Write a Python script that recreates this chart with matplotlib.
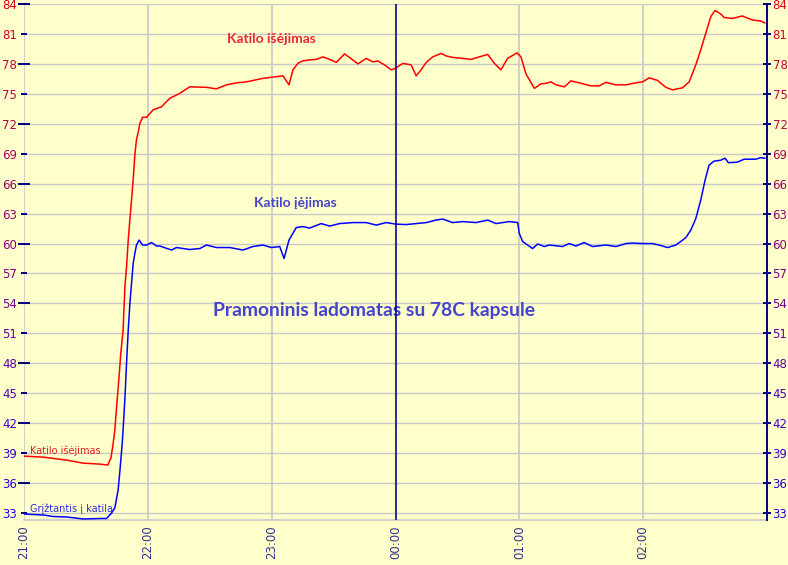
import matplotlib
matplotlib.use("Agg")
import matplotlib.pyplot as plt
import numpy as np

# ---- data (minutes after 21:00) ----
red_t = [0, 9.3, 20.7, 28.5, 36.8, 40.6, 42.1, 43.1, 44.0, 45.0, 46.0, 46.9, 48.0, 48.9,
         49.7, 50.5, 51.3, 52.1, 52.9, 53.7, 54.5, 55.6, 56.1, 57.4, 59.4, 62.6, 66.6,
         70.6, 75.5, 80.3, 88.4, 93.2, 98.1, 102.9, 107.8, 115.8, 125.5, 128.4, 130.3,
         132.7, 135.1, 138.4, 141.6, 144.8, 148.1, 151.3, 155.3, 157.7, 161.8, 165.8,
         169.0, 171.4, 174.7, 177.9, 180.0, 183.5, 187.6, 190.0, 192.4, 194.9, 198.0,
         202.1, 204.5, 207.7, 212.6, 216.6, 220.6, 224.7, 227.9, 231.1, 234.3, 238.9,
         240.8, 243.2, 247.3, 250.5, 252.9, 255.3, 257.8, 261.8, 265.0, 269.0, 274.7,
         278.7, 281.9, 286.8, 291.6, 296.5, 299.7, 302.9, 306.9, 311.0, 314.2, 319.0,
         322.3, 325.5, 327.9, 330.3, 332.8, 334.8, 337.6, 339.2, 343.2, 348.0, 352.9,
         356.9, 359.0]
red_v = [38.7, 38.6, 38.3, 38.0, 37.9, 37.8, 38.5, 39.8, 41.3, 44.0, 46.5, 49.0, 51.3, 55.7,
         57.7, 60.35, 62.4, 64.35, 66.4, 68.85, 70.4, 71.4, 72.0, 72.65, 72.65, 73.4, 73.7,
         74.55, 75.05, 75.7, 75.65, 75.5, 75.9, 76.1, 76.2, 76.55, 76.8, 75.9, 77.4,
         78.05, 78.3, 78.4, 78.45, 78.7, 78.45, 78.15, 79.0, 78.65, 78.0, 78.55,
         78.2, 78.3, 77.9, 77.4, 77.55, 78.05, 77.9, 76.8, 77.4, 78.15, 78.7,
         79.05, 78.8, 78.65, 78.55, 78.45, 78.7, 78.95, 78.05, 77.4, 78.55, 79.1,
         78.7, 77.0, 75.55, 76.0, 76.05, 76.2, 75.9, 75.7, 76.3, 76.1, 75.8,
         75.8, 76.15, 75.9, 75.9, 76.1, 76.2, 76.6, 76.35, 75.65, 75.4, 75.6,
         76.2, 77.9, 79.4, 81.05, 82.75, 83.35, 83.0, 82.65, 82.55, 82.8, 82.4,
         82.3, 82.1]

blue_t = [0, 9.3, 14.2, 20.7, 28.7, 36.8, 40.0, 42.4, 44.0, 45.6, 46.5, 47.6, 48.0, 48.9,
          49.8, 50.5, 51.3, 52.1, 52.9, 53.7, 54.5, 55.8, 57.4, 59.4, 61.8, 64.2, 65.8,
          71.5, 73.9, 80.3, 85.2, 88.4, 93.2, 99.7, 106.1, 110.9, 115.8, 119.9, 123.9,
          126.0, 128.4, 131.9, 135.1, 138.4, 144.0, 148.1, 152.9, 159.3, 165.8, 170.7,
          175.5, 180.0, 185.2, 190.0, 194.9, 199.7, 202.9, 207.7, 212.6, 219.0, 224.7,
          228.7, 235.2, 239.2, 240.0, 241.6, 246.4, 248.9, 252.1, 254.5, 260.9, 264.2,
          267.4, 271.4, 275.5, 281.9, 286.8, 291.6, 294.8, 299.7, 304.5, 307.7, 311.8,
          315.8, 318.2, 320.7, 323.1, 325.5, 327.9, 330.0, 331.9, 334.3, 337.6, 339.7,
          341.3, 345.6, 348.9, 354.5, 356.9, 359.0]
blue_v = [32.9, 32.8, 32.65, 32.6, 32.4, 32.45, 32.45, 33.0, 33.5, 35.3, 37.3, 40.0, 41.3, 44.5,
          48.5, 51.3, 54.0, 56.0, 58.0, 59.0, 59.85, 60.35, 59.85, 59.85, 60.1, 59.75, 59.75,
          59.35, 59.6, 59.4, 59.5, 59.85, 59.6, 59.6, 59.35, 59.7, 59.85, 59.6, 59.7,
          58.5, 60.35, 61.6, 61.7, 61.55, 62.0, 61.75, 62.0, 62.1, 62.1, 61.85,
          62.1, 61.95, 61.9, 62.0, 62.1, 62.35, 62.45, 62.1, 62.2, 62.1, 62.35,
          62.0, 62.2, 62.1, 61.0, 60.2, 59.5, 59.95, 59.7, 59.85, 59.7, 60.0,
          59.75, 60.1, 59.7, 59.85, 59.7, 60.0, 60.05, 60.0, 60.0, 59.85, 59.6,
          59.85, 60.2, 60.6, 61.35, 62.5, 64.35, 66.35, 67.85, 68.25, 68.35, 68.55,
          68.1, 68.15, 68.45, 68.45, 68.6, 68.55]

x_ticks = [0, 60, 120, 180, 240, 300]
x_labels = ["21:00", "22:00", "23:00", "00:00", "01:00", "02:00"]
y_major = [84, 78, 72, 66, 60, 54, 48, 42, 36]
y_minor = [81, 75, 69, 63, 57, 51, 45, 39, 33]

title = "Pramoninis ladomatas su 78C kapsule"
lbl_out = "Katilo išėjimas"
lbl_in = "Katilo įėjimas"
lbl_ret = "Grįžtantis į katilą"

BG = "#ffffcc"
NAVY = "#000080"
GRID = "#c8c8c8"

fig = plt.figure(figsize=(7.88, 5.65), dpi=100, facecolor=BG)
ax = fig.add_axes([24/788, 1-520/565, (767-24)/788, (520-4)/565])
ax.set_facecolor(BG)
ax.set_xlim(0, 360)
ax.set_ylim(32.3, 84)

for v in y_major + y_minor:
    ax.axhline(v, color=GRID, lw=1.0, zorder=1)
for t in x_ticks:
    ax.axvline(t, color=GRID, lw=1.2, zorder=1)
ax.axvline(180, color=NAVY, lw=1.1, zorder=4)

ax.plot(red_t, red_v, color="#ff0000", lw=1.1, zorder=3)
ax.plot(blue_t, blue_v, color="#0000ff", lw=1.1, zorder=3)

for s in ["top", "left"]:
    ax.spines[s].set_visible(False)
ax.spines["bottom"].set_color(GRID)
ax.spines["bottom"].set_linewidth(1.2)
ax.spines["right"].set_visible(False)

def tick_color(v):
    f = (v - 33) / (84 - 33)
    c0 = np.array([0x22, 0x00, 0xdd]) / 255
    c1 = np.array([0xdd, 0x00, 0x22]) / 255
    return tuple(c0 + (c1 - c0) * f)

ax.set_xticks(x_ticks, labels=x_labels, rotation=90)
ax.tick_params(axis="x", length=0, pad=4, labelsize=8.5, labelcolor="#33338f")

ax.set_yticks(y_major, labels=[str(v) for v in y_major])
ax.set_yticks(y_minor, labels=[str(v) for v in y_minor], minor=True)
ax.tick_params(axis="y", which="major", direction="inout", length=8, width=1.4,
               color=NAVY, labelsize=8.5, pad=1)
ax.tick_params(axis="y", which="minor", direction="inout", length=4.5, width=1.4,
               color=NAVY, labelsize=8.5, pad=2.8)
for lb in ax.get_yticklabels() + ax.get_yticklabels(minor=True):
    lb.set_color(tick_color(float(lb.get_text())))

ax2 = ax.twinx()
ax2.set_ylim(ax.get_ylim())
ax2.set_facecolor("none")
for s in ["top", "left", "bottom"]:
    ax2.spines[s].set_visible(False)
ax2.spines["right"].set_color(NAVY)
ax2.spines["right"].set_linewidth(1.4)
allv = sorted(y_major + y_minor, reverse=True)
ax2.set_yticks(allv, labels=[str(v) for v in allv])
ax2.tick_params(axis="y", direction="inout", length=6, width=1.4, color=NAVY,
                labelsize=8.5, pad=1)
for lb in ax2.get_yticklabels():
    lb.set_color(tick_color(float(lb.get_text())))

ax.text(120, 80.5, lbl_out, color="#e8283c", fontsize=10, fontweight="bold",
        family="Lato", ha="center", va="center", zorder=2)
ax.text(131.6, 64.06, lbl_in, color="#4646c8", fontsize=10, fontweight="bold",
        family="Lato", ha="center", va="center", zorder=2)
ax.text(169.4, 53.34, title, color="#4444cc", fontsize=13.9, fontweight="bold",
        family="Lato", ha="center", va="center", zorder=2)
ax.text(2.9, 39.2, lbl_out, color="#e02020", fontsize=7, ha="left", va="center", zorder=2)
ax.text(2.9, 33.4, lbl_ret, color="#3030e0", fontsize=7, ha="left", va="center", zorder=2)

fig.savefig("out.png", dpi=100, facecolor=BG)
